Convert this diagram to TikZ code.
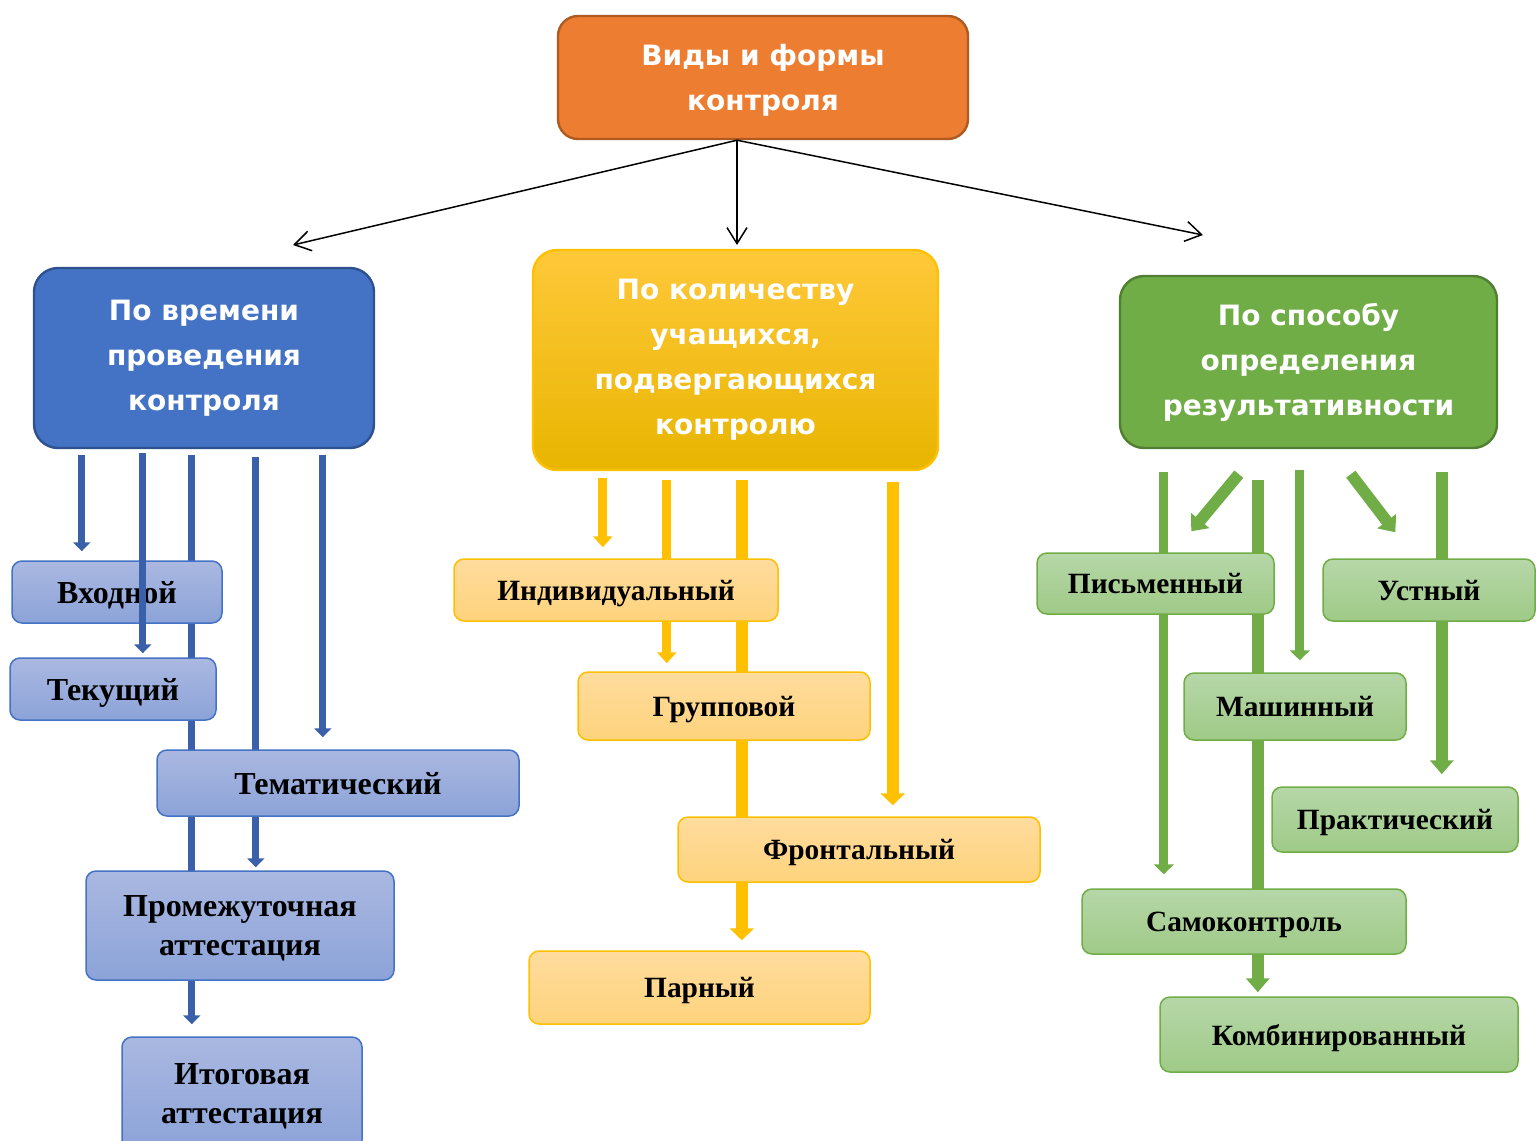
\documentclass[tikz,border=0pt]{standalone}
\usepackage{fontspec}
\setmainfont{Liberation Serif}
\newfontfamily\headfont{DejaVu Sans}
\usetikzlibrary{arrows.meta}
\usetikzlibrary{backgrounds}

\definecolor{orangefill}{HTML}{ED7D31}
\definecolor{orangeedge}{HTML}{AE5A21}
\definecolor{bluehead}{HTML}{4472C4}
\definecolor{blueedge}{HTML}{2F528F}
\definecolor{bluetop}{HTML}{AAB8E1}
\definecolor{bluebot}{HTML}{8CA3D8}
\definecolor{bluearr}{HTML}{3A60AA}
\definecolor{gold}{HTML}{FFC000}
\definecolor{goldtop}{HTML}{FFC83A}
\definecolor{goldbot}{HTML}{E8B500}
\definecolor{yellowtop}{HTML}{FFDC9E}
\definecolor{yellowbot}{HTML}{FED37C}
\definecolor{greenhead}{HTML}{70AD47}
\definecolor{greenedge}{HTML}{507E32}
\definecolor{greentop}{HTML}{B6D7A8}
\definecolor{greenbot}{HTML}{9FCA87}

\begin{document}
\begin{tikzpicture}[x=0.5pt, y=-0.5pt,
    headbox/.style={rounded corners=12pt, line width=1.2pt, text=white, align=center, inner sep=0pt,
      font=\headfont\bfseries\fontsize{14}{22.5}\selectfont},
    leafbox/.style={rounded corners=5pt, line width=0.75pt, align=center, inner sep=0pt, text depth=0pt,
      font=\bfseries\fontsize{14.7}{19.5}\selectfont},
    blueleaf/.style={leafbox, draw=bluehead, top color=bluetop, bottom color=bluebot,
      font=\bfseries\fontsize{16}{19.5}\selectfont},
    yellowleaf/.style={leafbox, draw=gold, top color=yellowtop, bottom color=yellowbot},
    greenleaf/.style={leafbox, draw=greenhead, top color=greentop, bottom color=greenbot},
    thinarrow/.style={line width=0.75pt, -{Straight Barb[width=10pt, length=8pt]}},
    bluearrow/.style={draw=bluearr, line width=3.6pt, -{Triangle[width=8.5pt, length=4.5pt]}},
    yellowarrow/.style={draw=gold, line width=4.5pt, -{Triangle[width=9.5pt, length=5.5pt]}},
    yellowwide/.style={draw=gold, line width=6pt, -{Triangle[width=12pt, length=6pt]}},
    greenarrow/.style={draw=greenhead, line width=4.5pt, -{Triangle[width=10pt, length=5pt]}},
    greenwide/.style={draw=greenhead, line width=5.8pt, -{Triangle[width=11.5pt, length=7pt]}},
  ]
  \useasboundingbox (0,0) rectangle (1536,1140);

  % headings
  \node[headbox, fill=orangefill, draw=orangeedge, rounded corners=10pt, minimum width=205pt, minimum height=61.5pt, text depth=0pt] (root) at (763,77.5) {Виды и формы\\контроля};
  \node[headbox, fill=bluehead, draw=blueedge, minimum width=170pt, minimum height=90pt] (timehead) at (204,358) {По времени\\проведения\\контроля};
  \node[headbox, top color=goldtop, bottom color=goldbot, draw=gold, minimum width=202.5pt, minimum height=110pt] (numhead) at (735.5,360) {По количеству\\учащихся,\\подвергающихся\\контролю};
  \node[headbox, fill=greenhead, draw=greenedge, minimum width=188.5pt, minimum height=86pt] (methhead) at (1308.5,362) {По способу\\определения\\результативности};

  % by time
  \node[blueleaf, minimum width=105pt, minimum height=31pt]   (vhod) at (117,592)    {Входной};
  \node[blueleaf, minimum width=103pt, minimum height=31pt]   (tek)  at (113,689)    {Текущий};
  \node[blueleaf, minimum width=181pt, minimum height=33pt]   (tema) at (338,783)    {Тематический};
  \node[blueleaf, minimum width=154pt, minimum height=54.5pt] (prom) at (240,925.5)  {Промежуточная\\аттестация};
  \node[blueleaf, minimum width=120pt, minimum height=56.5pt] (itog) at (242,1093.5) {Итоговая\\аттестация};

  % by number of students
  \node[yellowleaf, minimum width=162pt, minimum height=31pt]   (indiv) at (616,590)     {Индивидуальный};
  \node[yellowleaf, minimum width=146pt, minimum height=34pt]   (grup)  at (724,706)     {Групповой};
  \node[yellowleaf, minimum width=181pt, minimum height=32.5pt] (front) at (859,849.5)   {Фронтальный};
  \node[yellowleaf, minimum width=170.5pt, minimum height=36.5pt] (parn) at (699.5,987.5) {Парный};

  % by method
  \node[greenleaf, minimum width=118.5pt, minimum height=30.5pt] (pism) at (1155.5,583.5) {Письменный};
  \node[greenleaf, minimum width=106pt, minimum height=31pt]     (ustn) at (1429,590)     {Устный};
  \node[greenleaf, minimum width=111pt, minimum height=33.5pt]   (mash) at (1295,706.5)   {Машинный};
  \node[greenleaf, minimum width=123pt, minimum height=32.5pt]   (prak) at (1395,819.5)   {Практический};
  \node[greenleaf, minimum width=162pt, minimum height=32.5pt]   (samo) at (1244,921.5)   {Самоконтроль};
  \node[greenleaf, minimum width=179pt, minimum height=37.5pt]   (komb) at (1339,1034.5)  {Комбинированный};

  % thin arrows from the root
  \coordinate (rootfoot) at ([xshift=-13pt]root.south);
  \coordinate (tipL) at (293,245);
  \coordinate (tipM) at (737,245);
  \coordinate (tipR) at (1203,235);
  \draw[thinarrow] (rootfoot) -- (tipL);
  \draw[thinarrow] (rootfoot) -- (tipM);
  \draw[thinarrow] (rootfoot) -- (tipR);

  % start points under the headings
  \coordinate (b1) at ([xshift=24.5pt]timehead.south west);
  \coordinate (b2) at ([xshift=55pt]timehead.south west);
  \coordinate (b3) at ([xshift=79.5pt]timehead.south west);
  \coordinate (b4) at ([xshift=111.5pt]timehead.south west);
  \coordinate (b5) at ([xshift=145pt]timehead.south west);
  \coordinate (y1) at ([xshift=35.5pt]numhead.south west);
  \coordinate (y2) at ([xshift=67.5pt]numhead.south west);
  \coordinate (y3) at ([xshift=105pt]numhead.south west);
  \coordinate (y4) at ([xshift=180.5pt]numhead.south west);
  \coordinate (g1) at ([xshift=22.5pt]methhead.south west);
  \coordinate (g3) at ([xshift=69.5pt]methhead.south west);
  \coordinate (g4) at ([xshift=90.5pt]methhead.south west);
  \coordinate (g6) at ([xshift=161.5pt]methhead.south west);

  \begin{pgfonlayer}{background}
    \draw[bluearrow, shorten <=3pt, shorten >=4.5pt] (b1) -- (b1 |- vhod.north);
    \draw[bluearrow, shorten <=3pt, shorten >=6pt]   (b3) -- (b3 |- itog.north);
    \draw[bluearrow, shorten <=4pt, shorten >=1.5pt] (b4) -- (b4 |- prom.north);
    \draw[bluearrow, shorten <=3pt, shorten >=6pt]   (b5) -- (b5 |- tema.north);

    \draw[yellowarrow, shorten <=3.5pt, shorten >=5.5pt] (y1) -- (y1 |- indiv.north);
    \draw[yellowarrow, shorten <=4.5pt, shorten >=4pt]   (y2) -- (y2 |- grup.north);
    \draw[yellowwide,  shorten <=4.5pt, shorten >=5pt]   (y3) -- (y3 |- parn.north);
    \draw[yellowwide,  shorten <=5.5pt, shorten >=5.5pt] (y4) -- (y4 |- front.north);

    \draw[greenarrow, shorten <=11.5pt, shorten >=7pt] (g1) -- (g1 |- samo.north);
    \draw[greenwide,  shorten <=15.5pt, shorten >=2pt] (g3) -- (g3 |- komb.north);
    \draw[greenarrow, shorten <=10.5pt, shorten >=6pt] (g4) -- (g4 |- mash.north);
    \draw[greenwide,  shorten <=11.5pt, shorten >=6pt] (g6) -- (g6 |- prak.north);
    \draw[greenwide] ([xshift=60pt,yshift=-12.5pt]methhead.south west) -- ([xshift=77.5pt,yshift=10.5pt]pism.north west);
    \draw[greenwide] ([xshift=116pt,yshift=-12.5pt]methhead.south west) -- ([xshift=36.5pt,yshift=13pt]ustn.north west);
  \end{pgfonlayer}

  % this one runs over the box
  \draw[bluearrow, shorten <=2pt, shorten >=2pt] (b2) -- (b2 |- tek.north);
\end{tikzpicture}
\end{document}
